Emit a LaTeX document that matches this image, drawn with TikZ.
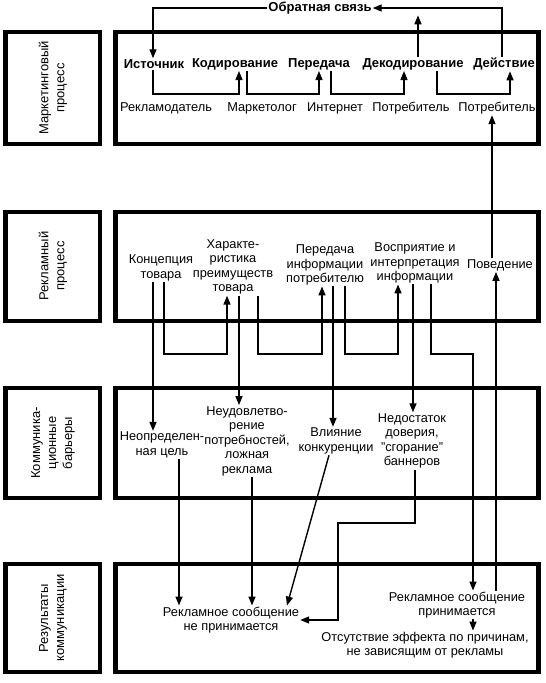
\documentclass[tikz,border=0pt]{standalone}
\usepackage{fontspec}
\setmainfont{Liberation Sans}
\usetikzlibrary{arrows.meta}
\begin{document}
\begin{tikzpicture}[x=1pt,y=-1pt,
  frame/.style={draw, line width=4.5pt},
  lbl/.style={font=\fontsize{12.8}{14.5}\selectfont, align=center, inner sep=1pt},
  hd/.style={font=\fontsize{13}{14.5}\selectfont\bfseries, inner sep=1pt},
  side/.style={font=\fontsize{13}{16}\selectfont, align=center, rotate=90, inner sep=1pt},
  ln/.style={line width=1.4pt},
  arr/.style={ln, -{Triangle[length=9pt,width=7pt]}},
]
\useasboundingbox (0,0) rectangle (546,683);
% frames
\draw[frame] (5.5,32) rectangle (100,144);
\draw[frame] (115.5,32) rectangle (538.5,144);
\draw[frame] (5.5,212) rectangle (100,321);
\draw[frame] (115.5,212) rectangle (538.5,321);
\draw[frame] (5.5,388) rectangle (100,498);
\draw[frame] (115.5,388) rectangle (538.5,498);
\draw[frame] (5.5,564) rectangle (100,672);
\draw[frame] (115.5,564) rectangle (538.5,672);
% side labels
\node[side] (s1) at (53,88) {Маркетинговый\\процесс};
\node[side] (s2) at (53,266) {Рекламный\\процесс};
\node[side] (s3) at (53,443) {Коммуника-\\ционные\\барьеры};
\node[side] (s4) at (53,618) {Результаты\\коммуникации};
% box 1
\node[hd] (ist) at (154,64) {Источник};
\node[hd] (kod) at (235,64) {Кодирование};
\node[hd] (per) at (319,64) {Передача};
\node[hd] (dek) at (413,64) {Декодирование};
\node[hd] (dei) at (504,64) {Действие};
\node[lbl] (rek) at (166,108) {Рекламодатель};
\node[lbl] (mkt) at (262,108) {Маркетолог};
\node[lbl] (int) at (335,108) {Интернет};
\node[lbl] (p1) at (411,108) {Потребитель};
\node[lbl] (p2) at (497,108) {Потребитель};
\node[hd] (fb) at (320,8) {Обратная связь};
% box 2
\node[lbl] (kon) at (161,268) {Концепция\\товара};
\node[lbl] (har) at (233,267) {Характе-\\ристика\\преимуществ\\товара};
\node[lbl] (pered) at (325,265) {Передача\\информации\\потребителю};
\node[lbl] (vos) at (415,263) {Восприятие и\\интерпретация\\информации};
\node[lbl] (pov) at (500,265) {Поведение};
% box 3
\node[lbl] (cel) at (162,445) {Неопределен-\\ная цель};
\node[lbl] (neud) at (247,441) {Неудовлетво-\\рение\\потребностей,\\ложная\\реклама};
\node[lbl] (vl) at (336,441) {Влияние\\конкуренции};
\node[lbl] (ned) at (412,441) {Недостаток\\доверия,\\"сгорание"\\баннеров};
% box 4
\node[lbl] (nepr) at (231,620) {Рекламное сообщение\\не принимается};
\node[lbl] (prin) at (457,605) {Рекламное сообщение\\принимается};
\node[lbl] (otst) at (425,645) {Отсутствие эффекта по причинам,\\не зависящим от рекламы};
% box 1 connectors
\draw[arr] (153,0 |- ist.south) -- (153,94) -| (239,0 |- kod.south);
\draw[arr] (247,0 |- kod.south) -- (247,94) -| (319,0 |- per.south);
\draw[arr] (331,0 |- per.south) -- (331,94) -| (404,0 |- dek.south);
\draw[arr] (437,0 |- dek.south) -- (437,94) -| (510,0 |- dei.south);
% feedback
\draw[arr] (502,0 |- dei.north) -- (502,8) -- (fb.east);
\draw[arr] (fb.west) -- (153,8) -- (153,0 |- ist.north);
\draw[arr] (418,0 |- dek.north) -- (418,0 |- fb.south);
\draw[arr] (492,0 |- pov.north) -- (492,0 |- p2.south);
% box 2 connectors
\draw[arr] (153,0 |- kon.south) -- (153,0 |- cel.north);
\draw[arr] (164,0 |- kon.south) |- (227,354) -- (227,0 |- har.south);
\draw[arr] (239,0 |- har.south) -- (239,0 |- neud.north);
\draw[arr] (258,0 |- har.south) |- (322,354) -- (322,0 |- pered.south);
\draw[arr] (333,0 |- pered.south) -- (333,0 |- vl.north);
\draw[arr] (345,0 |- pered.south) |- (398,354) -- (398,0 |- vos.south);
\draw[arr] (413,0 |- vos.south) -- (413,0 |- ned.north);
\draw[arr] (431,0 |- vos.south) |- (473,354) -- (473,0 |- prin.north);
\draw[arr] (496,0 |- prin.north) -- (496,0 |- pov.south);
% box 3 connectors
\draw[arr] (179,0 |- cel.south) -- (179,0 |- nepr.north);
\draw[arr] (252,0 |- neud.south) -- (252,0 |- nepr.north);
\draw[arr] ([xshift=-7pt]vl.south) -- ([xshift=56pt]nepr.north);
\draw[arr] (415,0 |- ned.south) |- (338,523) |- (nepr.east);
\draw[arr] (473,0 |- prin.south) -- (473,0 |- otst.north);
\end{tikzpicture}
\end{document}
